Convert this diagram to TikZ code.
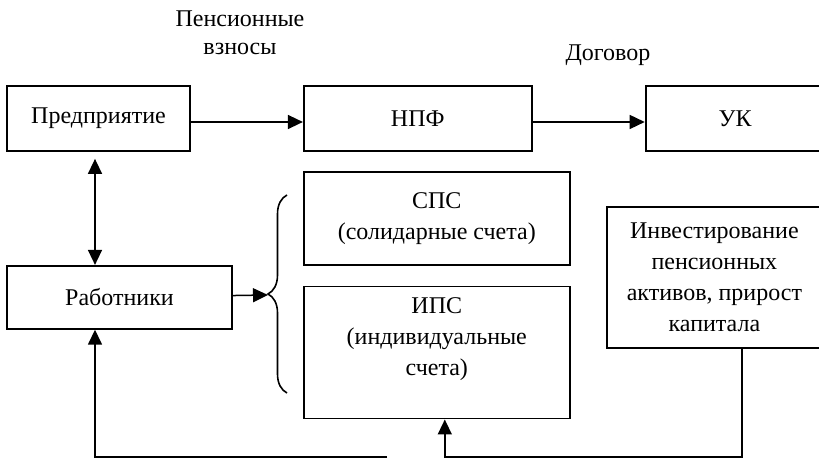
\documentclass[tikz,border=0pt]{standalone}
\usepackage{fontspec}
\setmainfont{Liberation Serif}
\usetikzlibrary{positioning, arrows.meta, decorations.pathreplacing}

\begin{document}
\begin{tikzpicture}[
    >={Triangle[length=7.5pt,width=7pt]},
    node distance=56pt,
    box/.style={rectangle, draw, line width=0.9pt,
                minimum height=32.5pt, align=center,
                font=\fontsize{12}{15.5}\selectfont, inner sep=2pt},
    note/.style={align=center, font=\fontsize{12}{14}\selectfont},
    arrow/.style={->, line width=0.75pt},
    biarrow/.style={<->, line width=0.75pt}
]
  \useasboundingbox (0,0) rectangle (409.5pt,-229pt);

  % Top row
  \node[box, minimum width=91.5pt] (pred) at (49.25pt,-59.25pt) {Предприятие};
  \node[box, minimum width=114pt, right=of pred] (npf) {НПФ};
  \node[box, minimum width=89.5pt, right=of npf] (uk) {УК};

  % Labels over arrows
  \node[note] (vzn) at (120pt,-16.5pt) {Пенсионные\\взносы};
  \node[note] (dog) at (304pt,-27.5pt) {Договор};

  % Employees
  \node[box, minimum width=112.5pt, minimum height=31.5pt,
        below=56.5pt of pred.south west, anchor=north west] (rab) {Работники};

  % Accounts
  \node[box, minimum width=133pt, minimum height=46.5pt,
        below=9.5pt of npf.south west, anchor=north west] (sps)
    {СПС\\(солидарные счета)};
  \node[box, minimum width=133pt, minimum height=66pt, text depth=16pt,
        below=10pt of sps.south west, anchor=north west] (ips)
    {ИПС\\(индивидуальные\\счета)};

  % Investment
  \node[box, minimum width=107.5pt, minimum height=70.5pt,
        anchor=north west] (inv) at (303pt,-103pt)
    {Инвестирование\\пенсионных\\активов, прирост\\капитала};

  % Brace
  \coordinate (brb) at (143.5pt,-196.5pt);
  \coordinate (brt) at (143.5pt,-97.5pt);
  \coordinate (br) at (134pt,-147.5pt);
  \draw[decorate, decoration={brace, amplitude=9.5pt}, line width=0.8pt]
    (brb) -- (brt);

  % Arrows
  \draw[arrow] ([yshift=-1.75pt]pred.east) -- ([yshift=-1.75pt]npf.west);
  \draw[arrow] ([yshift=-1.75pt]npf.east) -- ([yshift=-1.75pt]uk.west);
  \draw[biarrow, shorten <=3.5pt] ([xshift=-1.75pt]pred.south)
    -- ([xshift=-1.75pt]pred.south |- rab.north);
  \draw[arrow] (rab) -- (br);
  \coordinate (lend) at (193.5pt,-228.5pt);
  \draw[arrow] (lend) -| ([xshift=-12.25pt]rab.south);
  \draw[arrow] ([xshift=13.75pt]inv.south)
    |- ([xshift=4pt]ips.south |- lend) -- ([xshift=4pt]ips.south);
\end{tikzpicture}
\end{document}
